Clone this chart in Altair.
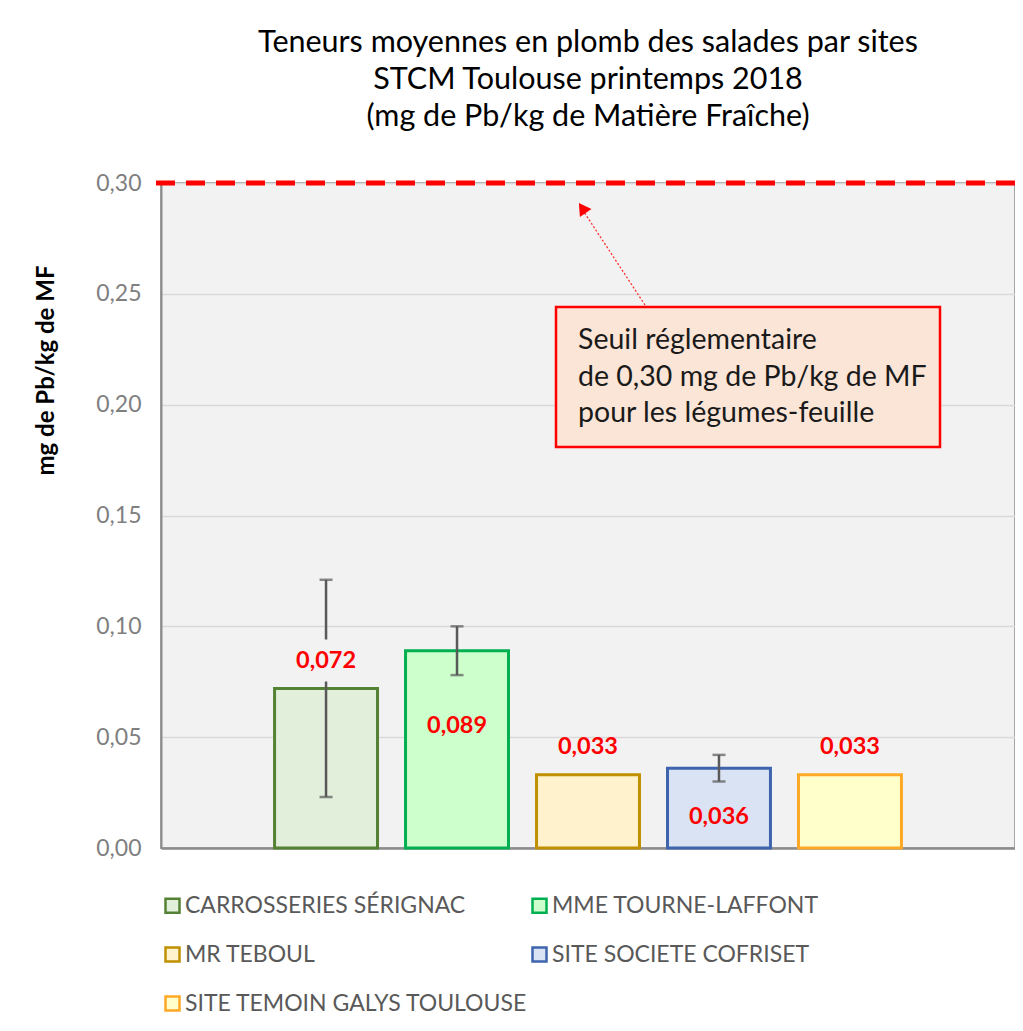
import altair as alt
import pandas as pd

# ---------------- data ----------------
sites = [
    "CARROSSERIES SÉRIGNAC",
    "MME TOURNE-LAFFONT",
    "MR TEBOUL",
    "SITE SOCIETE COFRISET",
    "SITE TEMOIN GALYS TOULOUSE",
]
means = [0.072, 0.089, 0.033, 0.036, 0.033]
errors = [0.049, 0.011, None, 0.006, None]
value_labels = ["0,072", "0,089", "0,033", "0,036", "0,033"]
threshold = 0.30
y_ticks = [0.0, 0.05, 0.10, 0.15, 0.20, 0.25, 0.30]

title_line = "Teneurs moyennes en plomb des salades par sites"
subtitle_lines = ["STCM Toulouse printemps 2018", "(mg de Pb/kg de Matière Fraîche)"]
y_title = "mg de Pb/kg de MF"
note_lines = ["Seuil réglementaire", "de 0,30 mg de Pb/kg de MF", "pour les légumes-feuille"]

# ---------------- styles ----------------
fills = ["#E2EFDA", "#CCFFCC", "#FFF2CC", "#DAE3F3", "#FFFFCC"]
strokes = ["#548235", "#00B050", "#BF9000", "#3F64AE", "#FFA826"]
label_offset_px = {  # pixel offset of each value label from the bar top
    "CARROSSERIES SÉRIGNAC": -27,
    "MME TOURNE-LAFFONT": 75,
    "MR TEBOUL": -28,
    "SITE SOCIETE COFRISET": 49,
    "SITE TEMOIN GALYS TOULOUSE": -28,
}
FONT = "Lato"
W, H = 854, 665

df = pd.DataFrame({"site": sites, "mean": means, "err": errors, "label": value_labels})
df["low"] = df["mean"] - df["err"]
df["high"] = df["mean"] + df["err"]
df["off"] = df["site"].map(label_offset_px)

legend = alt.Legend(
    title=None, orient="none", legendX=0, legendY=711, columns=2, direction="horizontal",
    symbolType="square", symbolSize=196, symbolStrokeWidth=2.5,
    labelFont=FONT, labelFontSize=23, labelColor="#595959", labelOffset=1,
    rowPadding=24, columnPadding=-10, padding=0, labelLimit=500,
)

base = alt.Chart(df).encode(
    x=alt.X(
        "site:N", sort=sites,
        scale=alt.Scale(paddingInner=0.214, paddingOuter=0.867),
        axis=alt.Axis(labels=False, ticks=False, title=None, grid=False,
                      domainColor="#8C8C8C", domainWidth=2.5),
    )
)

bars = base.mark_bar(strokeWidth=3).encode(
    y=alt.Y(
        "mean:Q",
        scale=alt.Scale(domain=[0, 0.3], nice=False, zero=True),
        axis=alt.Axis(
            values=y_ticks, ticks=False, grid=True, gridColor="#D9D9D9", gridWidth=1.5,
            domainColor="#8C8C8C", domainWidth=2,
            labelExpr="replace(format(datum.value, '.2f'), '.', ',')",
            labelFont=FONT, labelFontSize=23, labelColor="#7F7F7F", labelPadding=20,
            title=y_title, titleFont=FONT, titleFontSize=24, titleFontWeight="bold",
            titleColor="#000000", titleX=-115, titleY=187, titleAngle=270,
            titleAlign="center", titleBaseline="middle",
        ),
    ),
    fill=alt.Fill("site:N", sort=sites, scale=alt.Scale(domain=sites, range=fills), legend=legend),
    stroke=alt.Stroke("site:N", sort=sites, scale=alt.Scale(domain=sites, range=strokes), legend=legend),
)

err_data = base.transform_filter("datum.err != null")
err_rule = err_data.mark_rule(color="#595959", strokeWidth=2.5).encode(y="low:Q", y2="high:Q")
cap_low = err_data.mark_tick(color="#595959", thickness=2.5, size=13).encode(y="low:Q")
cap_high = err_data.mark_tick(color="#595959", thickness=2.5, size=13).encode(y="high:Q")

# label background that hides the error bar behind a label placed above the bar
mask = base.transform_filter("datum.err != null && datum.off < 0").mark_bar(
    width=20, fill="#F2F2F2", yOffset=-49, y2Offset=-7
).encode(y="mean:Q", y2="mean:Q")

text_layers = []
for off in sorted(set(label_offset_px.values())):
    text_layers.append(
        base.transform_filter(f"datum.off == {off}").mark_text(
            font=FONT, fontSize=23.5, fontWeight="bold", color="#FF0000",
            baseline="middle", align="center", dy=off,
        ).encode(y="mean:Q", text="label:N")
    )

thr = alt.Chart(pd.DataFrame({"t": [threshold]})).mark_rule(
    color="#FF0000", strokeWidth=5, strokeDash=[19, 11]
).encode(y="t:Q", x=alt.value(-5), x2=alt.value(W))

one = pd.DataFrame({"a": [0]})
note_box = alt.Chart(one).mark_rect(fill="#FBE5D6", stroke="#FF0000", strokeWidth=2.5).encode(
    x=alt.value(395), x2=alt.value(779), y=alt.value(124), y2=alt.value(264)
)
note_text = alt.Chart(one).mark_text(
    text=note_lines, font=FONT, fontSize=28.5, lineHeight=36.5, align="left", baseline="top", color="#1A1A1A"
).encode(x=alt.value(417), y=alt.value(143))

arrow_line = alt.Chart(one).mark_rule(color="#FF3030", strokeWidth=1.3, strokeDash=[2, 2]).encode(
    x=alt.value(484), y=alt.value(122), x2=alt.value(421), y2=alt.value(26)
)
arrow_head = alt.Chart(one).mark_point(
    shape="triangle-up", filled=True, size=196, angle=326, color="#FF0000", opacity=1
).encode(x=alt.value(421.3), y=alt.value(25))

chart = alt.layer(
    bars, err_rule, cap_low, cap_high, mask, *text_layers, thr,
    note_box, note_text, arrow_line, arrow_head
).properties(
    width=W, height=H,
    background="#FFFFFF",
    autosize=alt.AutoSizeParams(type="none"),
    padding={"left": 153, "top": 175, "right": 0, "bottom": 175},
    title=alt.Title(
        text=title_line, subtitle=subtitle_lines, anchor="middle", frame="group",
        font=FONT, fontSize=30.5, fontWeight="normal", color="#000000", lineHeight=37,
        subtitleFont=FONT, subtitleFontSize=30.5, subtitleColor="#000000", subtitleLineHeight=37,
        subtitlePadding=6, offset=40,
    ),
).configure_view(
    fill="#F2F2F2", stroke="#A6A6A6", strokeWidth=2
)

chart.save("out.html", embed_options={"renderer": "svg", "actions": False})
